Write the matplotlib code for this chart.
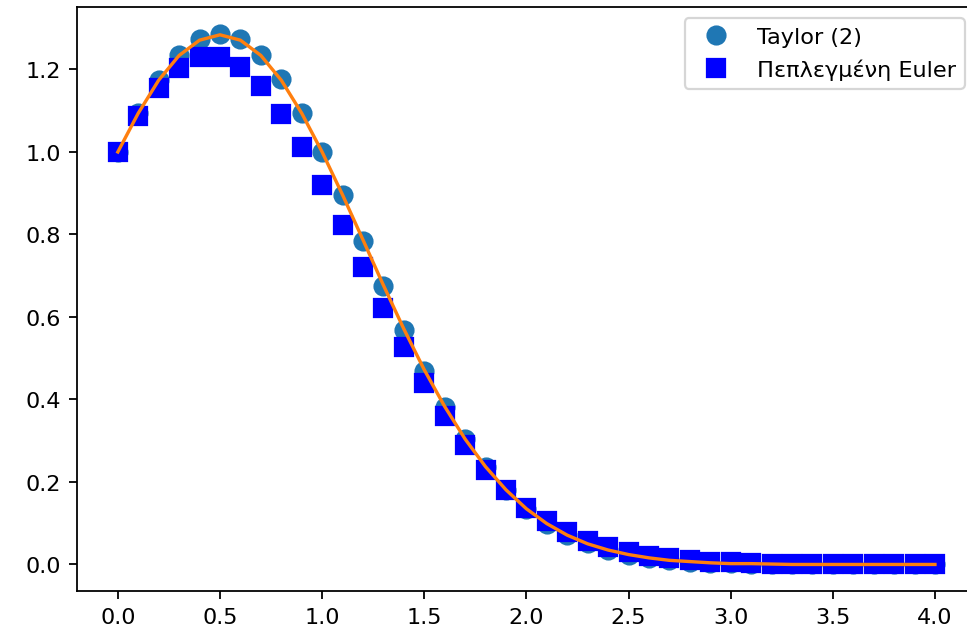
import numpy as np
import matplotlib
matplotlib.use("Agg")
import matplotlib.pyplot as plt

# time grid, step 0.1
t = np.round(np.arange(0, 4.01, 0.1), 2)

taylor2 = [1.0, 1.095, 1.175, 1.236, 1.274, 1.287, 1.274, 1.236, 1.176, 1.095,
           1.000, 0.895, 0.785, 0.675, 0.569, 0.470, 0.381, 0.303, 0.236, 0.180,
           0.135, 0.099, 0.072, 0.051, 0.035, 0.024, 0.016, 0.011, 0.007, 0.004,
           0.003, 0.002, 0.001, 0.001, 0.0, 0.0, 0.0, 0.0, 0.0, 0.0, 0.0]

euler_impl = [1.0, 1.087, 1.156, 1.204, 1.229, 1.229, 1.205, 1.159, 1.093, 1.012,
              0.920, 0.822, 0.721, 0.621, 0.527, 0.439, 0.360, 0.290, 0.230, 0.180,
              0.138, 0.105, 0.078, 0.058, 0.042, 0.030, 0.021, 0.015, 0.010, 0.007,
              0.005, 0.003, 0.002, 0.001, 0.001, 0.0, 0.0, 0.0, 0.0, 0.0, 0.0]

exact = [1.0, 1.094, 1.174, 1.234, 1.271, 1.284, 1.271, 1.234, 1.174, 1.094,
         1.000, 0.896, 0.787, 0.677, 0.571, 0.472, 0.383, 0.304, 0.237, 0.181,
         0.135, 0.099, 0.071, 0.050, 0.035, 0.024, 0.016, 0.010, 0.007, 0.004,
         0.002, 0.002, 0.001, 0.0, 0.0, 0.0, 0.0, 0.0, 0.0, 0.0, 0.0]

fig = plt.figure(figsize=(6.0, 3.98), dpi=161.3)
# axes runs past the right edge of the figure, as in the cropped original
ax = fig.add_axes([77 / 968, 50 / 642, 899 / 968, 584 / 642])

ax.plot(t, taylor2, 'o', markersize=8)
ax.plot(t, euler_impl, 'bs', markersize=8)
ax.plot(t, exact)
ax.spines['right'].set_visible(False)
ax.legend(['Taylor (2)', 'Πεπλεγμένη Euler'], loc='upper right')

fig.savefig("out.png", dpi=161.3)
